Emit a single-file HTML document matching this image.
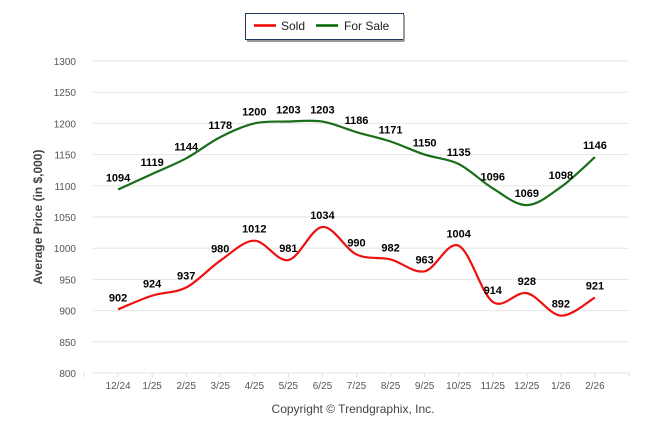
<!DOCTYPE html>
<html><head><meta charset="utf-8"><style>
body{margin:0;background:#fff;font-family:"Liberation Sans",sans-serif}
</style></head><body>
<svg id="c" width="646" height="434" xmlns="http://www.w3.org/2000/svg">
<g>
<rect x="245.5" y="13.5" width="158" height="26" fill="#fff" stroke="#1f3864" stroke-width="1"/>
<line x1="404" y1="15" x2="404" y2="41" stroke="#999" stroke-width="2"/>
<line x1="247" y1="41" x2="404" y2="41" stroke="#999" stroke-width="2"/>
<line x1="254" y1="25.5" x2="276" y2="25.5" stroke="#e00" stroke-width="2.5"/>
<text x="281" y="30" font-size="12" fill="#222">Sold</text>
<line x1="316" y1="25.5" x2="338" y2="25.5" stroke="#006400" stroke-width="2.5"/>
<text x="344" y="30" font-size="12" fill="#222">For Sale</text>
</g>
<text transform="translate(42,217) rotate(-90)" text-anchor="middle" font-size="12" font-weight="bold" fill="#444">Average Price (in $,000)</text>
<text x="353" y="413" text-anchor="middle" font-size="12" fill="#444">Copyright © Trendgraphix, Inc.</text>
<g id="grid"></g><g id="series"></g>
</svg>
<script>
const categories=["12/24","1/25","2/25","3/25","4/25","5/25","6/25","7/25","8/25","9/25","10/25","11/25","12/25","1/26","2/26"];
const soldValues=[902,924,937,980,1012,981,1034,990,982,963,1004,914,928,892,921];
const forSaleValues=[1094,1119,1144,1178,1200,1203,1203,1186,1171,1150,1135,1096,1069,1098,1146];
const yTicks=[800,850,900,950,1000,1050,1100,1150,1200,1250,1300];
const NS="http://www.w3.org/2000/svg";
const x0=84,x1=629,step=(x1-x0)/16;
const X=i=>x0+step*(i+1);
const Y=v=>373-(v-800)*(312/500);
const grid=document.getElementById('grid'),ser=document.getElementById('series');
function mk(t,a,p){const e=document.createElementNS(NS,t);for(const k in a)e.setAttribute(k,a[k]);p.appendChild(e);return e;}
yTicks.forEach(v=>{
 const l=mk('line',{x1:93,x2:629,y1:Y(v),y2:Y(v),stroke:'#e6e6e6','stroke-width':1},grid);
 
 
 const t=mk('text',{x:76,y:Y(v)+4,'text-anchor':'end','font-size':10,fill:'#555'},grid);t.textContent=v;
 
 
});
for(let i=0;i<=16;i++){const l=mk('line',{x1:x0+step*i,x2:x0+step*i,y1:373,y2:377,stroke:'#ddd'},grid);
 
 }
categories.forEach((c,i)=>{const t=mk('text',{x:X(i),y:389,'text-anchor':'middle','font-size':10,fill:'#555'},grid);t.textContent=c;
 
 });
function path(vals){const p=vals.map((v,i)=>[X(i),Y(v)]);let d='M'+p[0];
 for(let i=0;i<p.length-1;i++){const a=p[i-1]||p[i],b=p[i],c=p[i+1],e=p[i+2]||c;
 const c1=[b[0]+(c[0]-a[0])/6,b[1]+(c[1]-a[1])/6],c2=[c[0]-(e[0]-b[0])/6,c[1]-(e[1]-b[1])/6];
 d+=' C'+c1+' '+c2+' '+c;}return d;}
function draw(vals,col,name){
 const p=mk('path',{d:path(vals),fill:'none',stroke:col,'stroke-width':2.2},ser);
 
 
 vals.forEach((v,i)=>{const t=mk('text',{x:X(i),y:Y(v)-8,'text-anchor':'middle','font-size':11,'font-weight':'bold',fill:'#000'},ser);t.textContent=v;
 
 });
}
draw(forSaleValues,'#1a6e1a','for-sale');
draw(soldValues,'#ee1111','sold');
</script>
</body></html>
